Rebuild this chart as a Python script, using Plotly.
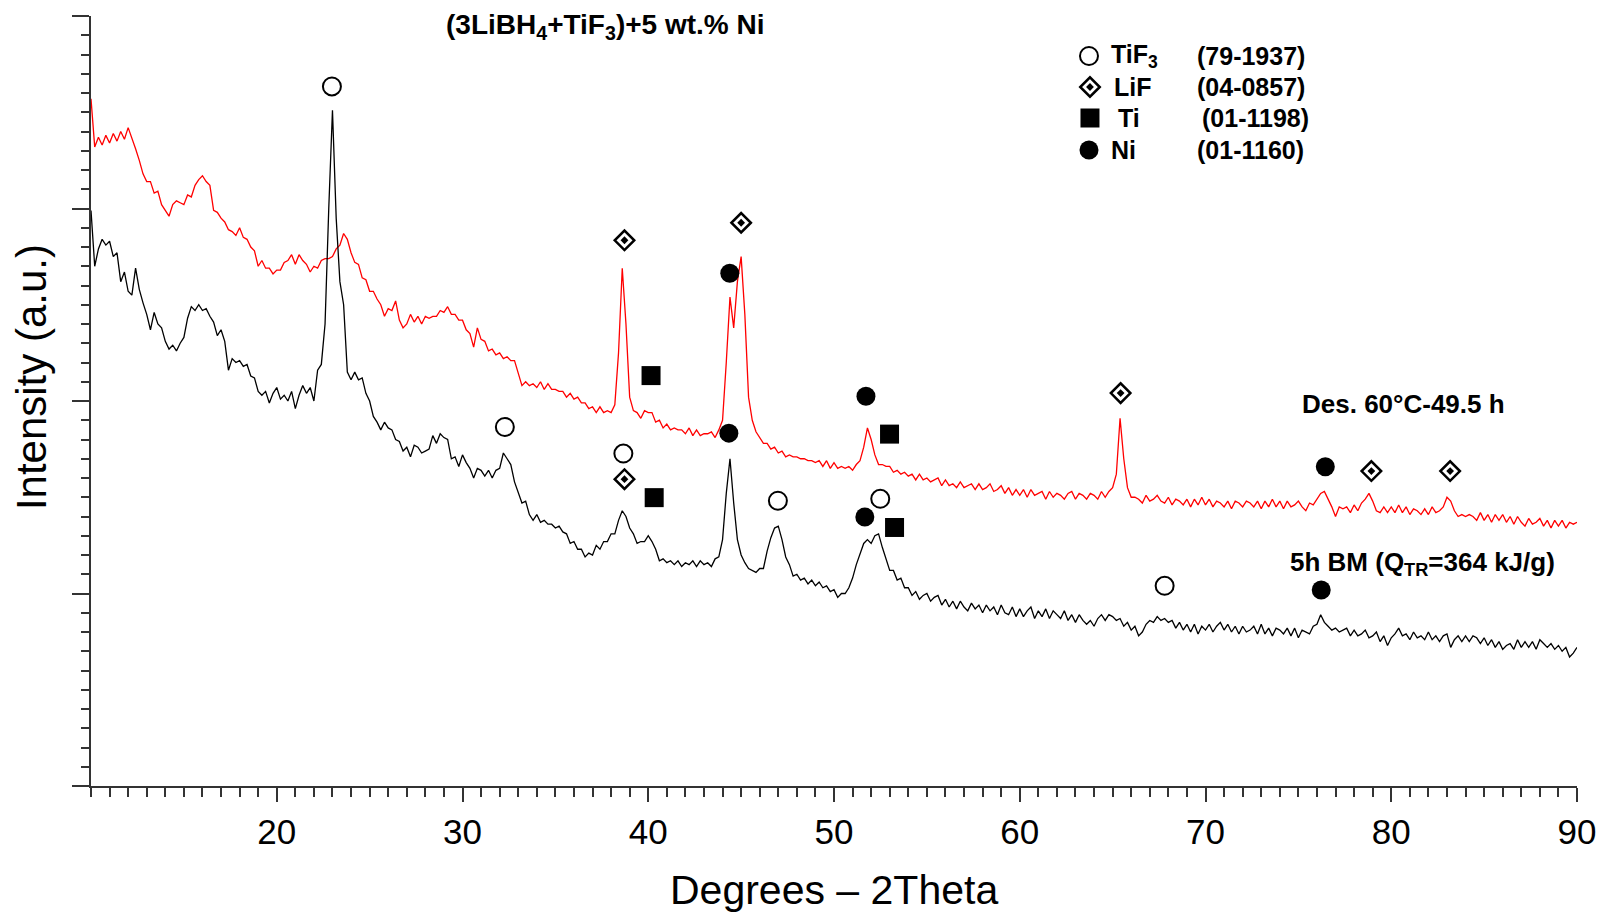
import numpy as np
import plotly.graph_objects as go

# ---------------- data ----------------
# 2-theta sampling grid (degrees), step 0.2
two_theta = np.round(np.arange(10.0, 90.0001, 0.2), 1)

# 5h BM (black) intensity, a.u.
bm_5h = [
    2.99, 2.70, 2.79, 2.84, 2.81, 2.83, 2.75, 2.77, 2.62, 2.67,
    2.57, 2.55, 2.69, 2.58, 2.51, 2.45, 2.37, 2.46, 2.40, 2.38,
    2.31, 2.27, 2.29, 2.26, 2.30, 2.33, 2.43, 2.49, 2.47, 2.50,
    2.47, 2.48, 2.44, 2.41, 2.34, 2.37, 2.31, 2.16, 2.22, 2.20,
    2.21, 2.18, 2.19, 2.13, 2.12, 2.05, 2.03, 2.05, 1.99, 2.04,
    2.07, 2.01, 2.03, 2.00, 2.05, 1.96, 2.03, 2.08, 2.04, 2.07,
    2.00, 2.16, 2.19, 2.40, 3.00, 3.51, 2.95, 2.62, 2.50, 2.15,
    2.11, 2.15, 2.11, 2.12, 2.04, 2.00, 1.92, 1.89, 1.85, 1.89,
    1.86, 1.85, 1.80, 1.79, 1.74, 1.76, 1.71, 1.77, 1.76, 1.73,
    1.74, 1.75, 1.82, 1.78, 1.83, 1.81, 1.80, 1.70, 1.71, 1.66,
    1.72, 1.68, 1.65, 1.60, 1.65, 1.64, 1.61, 1.64, 1.60, 1.64,
    1.65, 1.73, 1.70, 1.67, 1.58, 1.53, 1.47, 1.48, 1.41, 1.38,
    1.41, 1.37, 1.38, 1.36, 1.36, 1.34, 1.35, 1.32, 1.31, 1.26,
    1.27, 1.23, 1.23, 1.19, 1.21, 1.20, 1.25, 1.23, 1.27, 1.27,
    1.31, 1.31, 1.38, 1.43, 1.40, 1.34, 1.31, 1.26, 1.27, 1.27,
    1.30, 1.27, 1.23, 1.17, 1.18, 1.16, 1.17, 1.15, 1.17, 1.14,
    1.16, 1.15, 1.17, 1.14, 1.17, 1.15, 1.16, 1.14, 1.18, 1.19,
    1.28, 1.52, 1.70, 1.47, 1.28, 1.20, 1.16, 1.13, 1.12, 1.11,
    1.13, 1.13, 1.22, 1.29, 1.34, 1.35, 1.28, 1.19, 1.15, 1.09,
    1.10, 1.07, 1.08, 1.05, 1.07, 1.04, 1.06, 1.03, 1.04, 1.01,
    1.02, 0.98, 1.00, 1.00, 1.03, 1.08, 1.15, 1.21, 1.26, 1.28,
    1.26, 1.30, 1.31, 1.24, 1.18, 1.12, 1.12, 1.07, 1.08, 1.03,
    1.03, 0.99, 1.01, 0.97, 0.99, 1.00, 0.96, 0.98, 0.99, 0.94,
    0.97, 0.93, 0.96, 0.92, 0.96, 0.93, 0.91, 0.95, 0.92, 0.94,
    0.90, 0.94, 0.91, 0.93, 0.89, 0.94, 0.90, 0.89, 0.93, 0.88,
    0.92, 0.88, 0.91, 0.93, 0.87, 0.91, 0.88, 0.92, 0.87, 0.91,
    0.89, 0.87, 0.91, 0.86, 0.89, 0.85, 0.89, 0.86, 0.84, 0.86,
    0.83, 0.87, 0.89, 0.86, 0.89, 0.88, 0.86, 0.87, 0.83, 0.85,
    0.81, 0.83, 0.78, 0.80, 0.84, 0.86, 0.85, 0.88, 0.86, 0.87,
    0.85, 0.86, 0.82, 0.85, 0.81, 0.84, 0.80, 0.84, 0.79, 0.83,
    0.81, 0.84, 0.80, 0.83, 0.85, 0.81, 0.84, 0.80, 0.83, 0.79,
    0.83, 0.80, 0.81, 0.83, 0.79, 0.84, 0.79, 0.82, 0.78, 0.82,
    0.81, 0.79, 0.82, 0.78, 0.82, 0.77, 0.81, 0.80, 0.79, 0.83,
    0.84, 0.89, 0.85, 0.83, 0.81, 0.82, 0.80, 0.81, 0.82, 0.78,
    0.81, 0.78, 0.79, 0.81, 0.77, 0.78, 0.80, 0.75, 0.78, 0.73,
    0.77, 0.79, 0.82, 0.78, 0.79, 0.76, 0.80, 0.77, 0.78, 0.76,
    0.80, 0.76, 0.78, 0.75, 0.78, 0.79, 0.72, 0.76, 0.78, 0.75,
    0.78, 0.75, 0.78, 0.77, 0.74, 0.77, 0.73, 0.76, 0.72, 0.75,
    0.71, 0.73, 0.74, 0.71, 0.76, 0.72, 0.75, 0.72, 0.75, 0.71,
    0.76, 0.74, 0.72, 0.74, 0.71, 0.73, 0.70, 0.72, 0.67, 0.69,
    0.72,
]

# Des. 60 C - 49.5 h (red) intensity, a.u.
des_60c = [
    3.57, 3.32, 3.37, 3.33, 3.38, 3.34, 3.39, 3.35, 3.40, 3.36,
    3.42, 3.37, 3.31, 3.25, 3.18, 3.14, 3.14, 3.08, 3.09, 3.02,
    2.99, 2.96, 3.02, 3.04, 3.03, 3.02, 3.07, 3.06, 3.12, 3.15,
    3.17, 3.14, 3.12, 2.99, 2.98, 2.95, 2.93, 2.89, 2.88, 2.86,
    2.90, 2.85, 2.84, 2.80, 2.78, 2.70, 2.73, 2.69, 2.69, 2.66,
    2.68, 2.68, 2.72, 2.73, 2.76, 2.71, 2.76, 2.73, 2.71, 2.67,
    2.70, 2.69, 2.73, 2.74, 2.74, 2.75, 2.79, 2.81, 2.87, 2.84,
    2.77, 2.72, 2.71, 2.64, 2.63, 2.57, 2.57, 2.53, 2.50, 2.44,
    2.48, 2.47, 2.52, 2.42, 2.38, 2.40, 2.45, 2.41, 2.44, 2.40,
    2.44, 2.43, 2.44, 2.44, 2.47, 2.46, 2.49, 2.45, 2.45, 2.42,
    2.42, 2.37, 2.35, 2.28, 2.38, 2.32, 2.31, 2.26, 2.27, 2.24,
    2.25, 2.22, 2.23, 2.21, 2.21, 2.14, 2.08, 2.10, 2.08, 2.09,
    2.07, 2.10, 2.06, 2.09, 2.06, 2.06, 2.05, 2.05, 2.02, 2.04,
    2.01, 2.02, 1.99, 1.99, 1.96, 1.97, 1.94, 1.97, 1.94, 1.95,
    1.94, 1.98, 2.25, 2.69, 2.40, 2.02, 1.95, 1.94, 1.91, 1.95,
    1.94, 1.94, 1.89, 1.90, 1.86, 1.88, 1.85, 1.86, 1.85, 1.85,
    1.83, 1.86, 1.82, 1.85, 1.82, 1.83, 1.83, 1.84, 1.81, 1.85,
    1.90, 2.20, 2.54, 2.38, 2.62, 2.75, 2.45, 2.02, 1.90, 1.84,
    1.81, 1.78, 1.78, 1.75, 1.76, 1.73, 1.74, 1.71, 1.72, 1.71,
    1.71, 1.70, 1.70, 1.69, 1.69, 1.68, 1.69, 1.66, 1.69, 1.65,
    1.68, 1.65, 1.66, 1.65, 1.66, 1.64, 1.67, 1.69, 1.76, 1.86,
    1.80, 1.72, 1.67, 1.67, 1.66, 1.66, 1.63, 1.64, 1.62, 1.63,
    1.61, 1.62, 1.59, 1.62, 1.59, 1.60, 1.58, 1.59, 1.60, 1.56,
    1.59, 1.56, 1.57, 1.55, 1.58, 1.55, 1.56, 1.57, 1.54, 1.57,
    1.54, 1.55, 1.57, 1.53, 1.54, 1.56, 1.52, 1.55, 1.51, 1.54,
    1.51, 1.54, 1.50, 1.54, 1.51, 1.52, 1.53, 1.49, 1.53, 1.50,
    1.52, 1.51, 1.49, 1.52, 1.53, 1.49, 1.52, 1.51, 1.49, 1.52,
    1.51, 1.49, 1.53, 1.50, 1.53, 1.55, 1.62, 1.91, 1.70, 1.55,
    1.50, 1.50, 1.49, 1.47, 1.51, 1.48, 1.49, 1.51, 1.48, 1.47,
    1.50, 1.46, 1.49, 1.48, 1.46, 1.49, 1.45, 1.49, 1.46, 1.50,
    1.46, 1.49, 1.45, 1.48, 1.47, 1.45, 1.48, 1.44, 1.48, 1.47,
    1.45, 1.48, 1.47, 1.45, 1.48, 1.44, 1.48, 1.45, 1.49, 1.45,
    1.48, 1.44, 1.48, 1.45, 1.46, 1.48, 1.45, 1.43, 1.47, 1.46,
    1.49, 1.52, 1.53, 1.49, 1.45, 1.40, 1.45, 1.44, 1.45, 1.42,
    1.46, 1.43, 1.47, 1.49, 1.52, 1.48, 1.43, 1.42, 1.45, 1.42,
    1.45, 1.42, 1.46, 1.42, 1.45, 1.41, 1.44, 1.43, 1.41, 1.44,
    1.41, 1.45, 1.42, 1.43, 1.45, 1.50, 1.48, 1.43, 1.40, 1.41,
    1.40, 1.41, 1.40, 1.38, 1.42, 1.38, 1.41, 1.37, 1.41, 1.38,
    1.41, 1.37, 1.40, 1.36, 1.40, 1.37, 1.35, 1.39, 1.36, 1.37,
    1.39, 1.35, 1.38, 1.34, 1.38, 1.35, 1.38, 1.34, 1.37, 1.36,
    1.37,
]

# Phase markers (peak position in 2theta, marker height in a.u.)
tif3_x = [22.97, 32.28, 38.66, 46.98, 52.49, 67.80]
tif3_y = [3.634, 1.865, 1.727, 1.482, 1.492, 1.040]
lif_x = [38.72, 45.00, 65.43, 78.93, 83.17, 38.72]
lif_y = [2.835, 2.926, 2.041, 1.636, 1.636, 1.594]
ti_x = [40.15, 52.99, 40.32, 53.26]
ti_y = [2.132, 1.828, 1.498, 1.343]
ni_x = [44.39, 51.72, 76.45, 44.34, 51.66, 76.23]
ni_y = [2.664, 2.025, 1.658, 1.833, 1.397, 1.018]

legend_names = ["TiF<sub>3</sub>", "LiF", "Ti", "Ni"]
legend_cards = ["(79-1937)", "(04-0857)", "(01-1198)", "(01-1160)"]

x_ticks = [20, 30, 40, 50, 60, 70, 80, 90]

assert len(bm_5h) == len(two_theta) == len(des_60c)

# ---------------- layout helpers ----------------
W, H = 1608, 917
L, R, T, B = 91, 28, 16, 131
PW, PH = W - L - R, H - T - B
X0, X1, Y0, Y1 = 10, 90, 0, 4
FONT = "Liberation Sans, Arial, Helvetica, sans-serif"


def px_data(px, py):
    return (X0 + (px - L) * (X1 - X0) / PW, Y0 + (H - B - py) * (Y1 - Y0) / PH)


def px_paper(px, py):
    return ((px - L) / PW, (H - B - py) / PH)


fig = go.Figure()

fig.add_trace(go.Scatter(x=two_theta, y=des_60c, mode="lines",
                         line=dict(color="#ff0000", width=1.3), showlegend=False))
fig.add_trace(go.Scatter(x=two_theta, y=bm_5h, mode="lines",
                         line=dict(color="#000000", width=1.3), showlegend=False))

# Legend symbol positions (px)
leg_sym_px = [(1091, 56), (1092, 87), (1092, 118), (1091, 150)]
ls = [px_data(*p) for p in leg_sym_px]

mk_open_circle = dict(symbol="circle-open", size=18, color="black", line=dict(width=2, color="black"))
mk_diamond_out = dict(symbol="diamond-open", size=15, color="black", line=dict(width=2.5, color="black"))
mk_diamond_in = dict(symbol="diamond", size=6, color="black", line=dict(width=0))
mk_square = dict(symbol="square", size=19, color="black", line=dict(width=0))
mk_circle = dict(symbol="circle", size=19, color="black", line=dict(width=0))

fig.add_trace(go.Scatter(x=tif3_x + [ls[0][0]], y=tif3_y + [ls[0][1]], mode="markers",
                         marker=mk_open_circle, showlegend=False))
fig.add_trace(go.Scatter(x=lif_x + [ls[1][0]], y=lif_y + [ls[1][1]], mode="markers",
                         marker=mk_diamond_out, showlegend=False))
fig.add_trace(go.Scatter(x=lif_x + [ls[1][0]], y=lif_y + [ls[1][1]], mode="markers",
                         marker=mk_diamond_in, showlegend=False))
fig.add_trace(go.Scatter(x=ti_x + [ls[2][0]], y=ti_y + [ls[2][1]], mode="markers",
                         marker=mk_square, showlegend=False))
fig.add_trace(go.Scatter(x=ni_x + [ls[3][0]], y=ni_y + [ls[3][1]], mode="markers",
                         marker=mk_circle, showlegend=False))

annotations = []


def add_text(text, px, py, size, xanchor="center", angle=0, bold=True):
    ax, ay = px_paper(px, py)
    annotations.append(dict(
        text=f"<b>{text}</b>" if bold else text, x=ax, y=ay, xref="paper", yref="paper",
        xanchor=xanchor, yanchor="middle", showarrow=False, textangle=angle,
        font=dict(family=FONT, size=size, color="black")))


add_text("(3LiBH<sub>4</sub>+TiF<sub>3</sub>)+5 wt.% Ni", 606, 27, 28)
add_text("Des. 60°C-49.5 h", 1406, 404, 26)
add_text("5h BM (Q<sub>TR</sub>=364 kJ/g)", 1425, 563, 26)

name_px = [1111, 1114, 1118, 1111]
card_px = [1197, 1197, 1202, 1197]
for i, (nm, cd) in enumerate(zip(legend_names, legend_cards)):
    ypx = leg_sym_px[i][1]
    add_text(nm, name_px[i], ypx, 25, xanchor="left")
    add_text(cd, card_px[i], ypx, 25, xanchor="left")

add_text("Degrees – 2Theta", 835, 890, 41, bold=False)
add_text("Intensity (a.u.)", 31, 377, 42, angle=-90, bold=False)

AX = "#333333"
fig.update_layout(
    width=W, height=H, margin=dict(l=L, r=R, t=T, b=B),
    paper_bgcolor="white", plot_bgcolor="white",
    font=dict(family=FONT, color="black"),
    annotations=annotations,
    xaxis=dict(range=[X0, X1], tickmode="array", tickvals=x_ticks,
               ticktext=[str(v) for v in x_ticks],
               showgrid=False, zeroline=False, showline=True, linecolor=AX, linewidth=2,
               ticks="outside", ticklen=14, tickwidth=2, tickcolor=AX,
               tickfont=dict(family=FONT, size=35, color="black"),
               minor=dict(tickmode="linear", tick0=10, dtick=1, ticks="outside",
                          ticklen=9, tickwidth=2, tickcolor=AX, showgrid=False)),
    yaxis=dict(range=[Y0, Y1], tickmode="array", tickvals=[0, 1, 2, 3, 4],
               showticklabels=False,
               showgrid=False, zeroline=False, showline=True, linecolor=AX, linewidth=2,
               ticks="outside", ticklen=17, tickwidth=2, tickcolor=AX,
               minor=dict(tickmode="linear", tick0=0, dtick=0.1, ticks="outside",
                          ticklen=8, tickwidth=2, tickcolor=AX, showgrid=False)),
)

fig.write_html("out.html", config={"displayModeBar": False},
               post_script="document.body.style.margin='0px';document.body.style.overflow='hidden';")
